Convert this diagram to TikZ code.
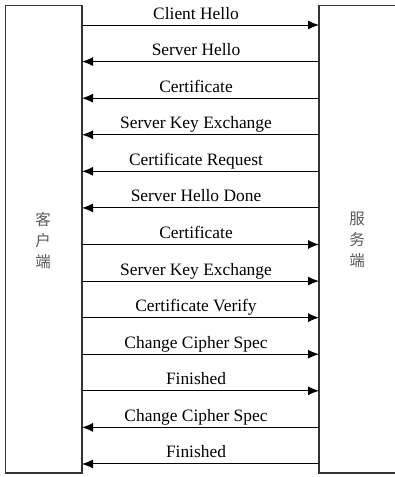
\documentclass[tikz,border=0pt]{standalone}
\usepackage{fontspec}
\setmainfont{Liberation Serif}
\newfontfamily\cjk{Noto Sans CJK SC}
\usetikzlibrary{arrows.meta}
\begin{document}
\begin{tikzpicture}[x=1pt,y=-1pt,
  box/.style={line width=1.2pt, draw=black!80},
  msg/.style={line width=1pt, -{Latex[length=11pt,width=9pt]}},
  lbl/.style={font=\fontsize{17.4}{18}\selectfont, inner sep=0pt, anchor=base},
  side/.style={font=\cjk\fontsize{15.5}{16}\selectfont, text=black!65, align=center, inner sep=0pt}]
\useasboundingbox (0,0) rectangle (394,477);
\draw[box] (5.5,5.5) rectangle (82,473);
\draw[box] (396,5.5) -- (319,5.5) -- (319,473) -- (396,473);
\node[side] (client) at (43,241) {客\\[5pt]户\\[5pt]端};
\node[side] (server) at (357,240) {服\\[5pt]务\\[5pt]端};
\foreach \i/\t/\d in {0/Client Hello/r, 1/Server Hello/l, 2/Certificate/l, 3/Server Key Exchange/l,
  4/Certificate Request/l, 5/Server Hello Done/l, 6/Certificate/r, 7/Server Key Exchange/r,
  8/Certificate Verify/r, 9/Change Cipher Spec/r, 10/Finished/r, 11/Change Cipher Spec/l, 12/Finished/l} {
  \pgfmathsetmacro{\yy}{25+36.58*\i}
  \coordinate (L\i) at (82,\yy);
  \coordinate (R\i) at (319,\yy);
  \node[lbl] (t\i) at (196,\yy-6) {\t};
  \if\d r
    \draw[msg] (L\i) -- (R\i);
  \else
    \draw[msg] (R\i) -- (L\i);
  \fi
}
\end{tikzpicture}
\end{document}
